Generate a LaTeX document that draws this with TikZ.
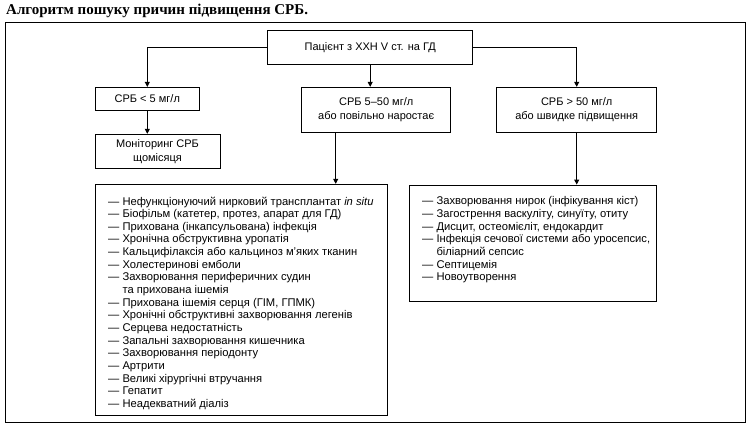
\documentclass[tikz,border=0pt]{standalone}
\usepackage{fontspec}
\setmainfont{Liberation Sans}
\newfontfamily\titlefont{Liberation Serif}
\usetikzlibrary{arrows.meta,calc}
\begin{document}
\begin{tikzpicture}[x=1pt,y=-1pt,
  box/.style={draw,line width=0.9pt,inner sep=0pt,align=center,font=\fontsize{11}{14}\selectfont},
  listtxt/.style={inner sep=0pt,align=left,anchor=north west,font=\fontsize{11.2}{12.66}\selectfont},
  arr/.style={line width=0.9pt,-{Triangle[length=5pt,width=5pt]}}]
\useasboundingbox (0,0) rectangle (751,428);
\node[anchor=west,inner sep=0pt,font=\titlefont\bfseries\fontsize{15}{17}\selectfont] (title) at (6,10.5) {Алгоритм пошуку причин підвищення СРБ.};
\node[draw,line width=0.9pt,minimum width=740pt,minimum height=400pt,inner sep=0pt] (frame) at (375,222.7) {};
\node[box,minimum width=205pt,minimum height=33.7pt] (top) at (370.2,47.2) {Пацієнт з ХХН V ст. на ГД};
\node[box,minimum width=103.3pt,minimum height=22.7pt] (lo) at (147.3,98.7) {СРБ < 5 мг/л};
\node[box,minimum width=149pt,minimum height=45.4pt] (mid) at (376.2,110) {СРБ 5–50 мг/л\\або повільно наростає};
\node[box,minimum width=160pt,minimum height=45.4pt] (hi) at (576.7,110) {СРБ > 50 мг/л\\або швидке підвищення};
\node[box,minimum width=125pt,minimum height=34pt] (mon) at (157.5,151.3) {Моніторинг СРБ\\щомісяця};
\node[draw,line width=0.9pt,minimum width=292pt,minimum height=231.4pt,inner sep=0pt] (llist) at (241,300) {};
\node[draw,line width=0.9pt,minimum width=247.5pt,minimum height=116pt,inner sep=0pt] (rlist) at (533,243) {};
\node[listtxt] (ltext) at (108,196.5) {— Нефункціонуючий нирковий трансплантат \textit{in situ}\\
— Біофільм (катетер, протез, апарат для ГД)\\
— Прихована (інкапсульована) інфекція\\
— Хронічна обструктивна уропатія\\
— Кальцифілаксія або кальциноз м’яких тканин\\
— Холестеринові емболи\\
— Захворювання периферичних судин\\
\hphantom{— }та прихована ішемія\\
— Прихована ішемія серця (ГІМ, ГПМК)\\
— Хронічні обструктивні захворювання легенів\\
— Серцева недостатність\\
— Запальні захворювання кишечника\\
— Захворювання періодонту\\
— Артрити\\
— Великі хірургічні втручання\\
— Гепатит\\
— Неадекватний діаліз};
\node[listtxt] (rtext) at (422,196.5) {— Захворювання нирок (інфікування кіст)\\
— Загострення васкуліту, синуїту, отиту\\
— Дисцит, остеомієліт, ендокардит\\
— Інфекція сечової системи або уросепсис,\\
\hphantom{— }біліарний сепсис\\
— Септицемія\\
— Новоутворення};
\coordinate (ma) at (335.7,132.7);
\draw[arr] (top.west) -| (lo.north);
\draw[arr] (top.east) -| (hi.north);
\draw[arr] (top.south) -- (top.south |- mid.north);
\draw[arr] (lo.south) -- (lo.south |- mon.north);
\draw[arr] (ma) -- (ma |- llist.north);
\draw[arr] (hi.south) -- (hi.south |- rlist.north);
\end{tikzpicture}
\end{document}
